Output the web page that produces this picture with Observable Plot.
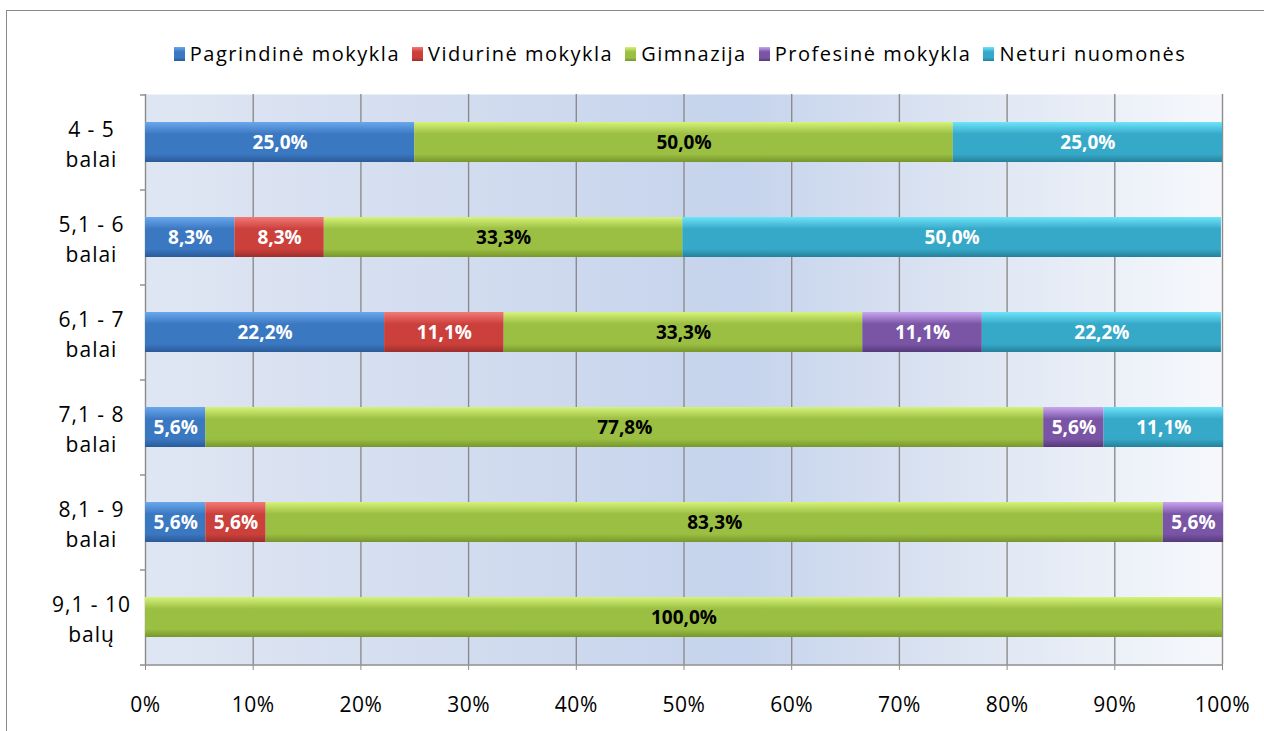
<!DOCTYPE html>
<html>
<head>
<meta charset="utf-8">
<script src="https://cdn.jsdelivr.net/npm/d3@7"></script>
<script src="https://cdn.jsdelivr.net/npm/@observablehq/plot@0.6"></script>
<style>
  body { margin: 0; background: #fff; font-family: "Open Sans", sans-serif; }
  #wrap { position: relative; width: 1264px; height: 731px; overflow: hidden; background: #fff; }
  #border { position: absolute; left: 6px; top: 10px; width: 1400px; height: 900px; border: 1.5px solid #8a8a8a; box-sizing: border-box; }
  #legend { position: absolute; top: 40px; left: 130px; width: 1100px; display: flex; justify-content: center; align-items: center; font-size: 20px; letter-spacing: 1.5px; color: #000; }
  .item { display: flex; align-items: center; margin: 0 6px; }
  .sw { width: 11px; height: 14px; margin-right: 5px; }
  #chart { position: absolute; left: 0; top: 80px; }
  #chart svg g[aria-label="x-axis tick label"] { font-size: 21px; letter-spacing: 0.5px; }
  #chart svg g[aria-label="y-axis tick label"] { font-size: 21px; letter-spacing: 1px; }
</style>
</head>
<body>
<div id="wrap">
  <div id="border"></div>
  <div id="legend"></div>
  <div id="chart"></div>
</div>
<script>
// ---- data ----
const categories = ["4 - 5\nbalai", "5,1 - 6\nbalai", "6,1 - 7\nbalai", "7,1 - 8\nbalai", "8,1 - 9\nbalai", "9,1 - 10\nbalų"];
const seriesNames = ["Pagrindinė mokykla", "Vidurinė mokykla", "Gimnazija", "Profesinė mokykla", "Neturi nuomonės"];
const pagrindine = [25.0, 8.3, 22.2, 5.6, 5.6, 0];
const vidurine   = [0, 8.3, 11.1, 0, 5.6, 0];
const gimnazija  = [50.0, 33.3, 33.3, 77.8, 83.3, 100.0];
const profesine  = [0, 0, 11.1, 5.6, 5.6, 0];
const neturi     = [25.0, 50.0, 22.2, 11.1, 0, 0];
const xTicks = [0, 10, 20, 30, 40, 50, 60, 70, 80, 90, 100];

// ---- styles (colours) ----
const seriesValues = [pagrindine, vidurine, gimnazija, profesine, neturi];
const grads = [
  {id: "gP", top: "#6aa8ec", main: "#3b78c2", bot: "#2a5a98"},
  {id: "gV", top: "#f27a76", main: "#cc403c", bot: "#9c2e2b"},
  {id: "gG", top: "#d6f27a", main: "#9bbf42", bot: "#77962c"},
  {id: "gR", top: "#c9a6f0", main: "#7a55a6", bot: "#56397a"},
  {id: "gN", top: "#6ee4fa", main: "#36a9c8", bot: "#25809a"}
];

const rows = [];
seriesNames.forEach((s, si) => {
  categories.forEach((c, ci) => {
    const v = seriesValues[si][ci];
    if (v > 0) rows.push({cat: c, series: s, value: v});
  });
});
const fmt = v => v.toFixed(1).replace(".", ",") + "%";

// ---- legend ----
const legend = document.getElementById("legend");
seriesNames.forEach((s, i) => {
  const g = grads[i];
  const it = document.createElement("div");
  it.className = "item";
  const sw = document.createElement("div");
  sw.className = "sw";
  sw.style.background = `linear-gradient(to bottom, ${g.top} 0%, ${g.main} 35%, ${g.main} 75%, ${g.bot} 100%)`;
  const tx = document.createElement("span");
  tx.textContent = s;
  it.appendChild(sw); it.appendChild(tx);
  legend.appendChild(it);
});

// ---- chart ----
const W = 1264, H = 651, mt = 14, mb = 67, ml = 145, mr = 42;
const step = (H - mt - mb) / categories.length;
const pxPerUnit = (W - ml - mr) / 100;
const tickUnits = 5 / pxPerUnit;

const plot = Plot.plot({
  width: W, height: H,
  marginTop: mt, marginBottom: mb, marginLeft: ml, marginRight: mr,
  style: {fontFamily: "'Open Sans', sans-serif", fontSize: "20px", color: "#000", background: "transparent"},
  x: {domain: [0, 100], axis: null},
  y: {domain: categories, paddingInner: 0.58, paddingOuter: 0.29, axis: null},
  color: {domain: seriesNames, range: grads.map(g => `url(#${g.id})`), type: "ordinal"},
  marks: [
    Plot.frame({fill: "url(#bgGrad)"}),
    Plot.ruleX(xTicks, {stroke: "#8c8c8c", strokeWidth: 1.4}),
    // horizontal ticks at band boundaries on the y axis
    Plot.ruleY(categories, {y: d => d, x1: -tickUnits, x2: 0, dy: -step / 2, stroke: "#8c8c8c", strokeWidth: 1.4}),
    Plot.ruleY([categories[categories.length - 1]], {y: d => d, x1: -tickUnits, x2: 100, dy: step / 2, stroke: "#8c8c8c", strokeWidth: 1.4}),
    Plot.axisX({ticks: xTicks, tickFormat: d => d + "%", tickSize: 6, tickPadding: 27, stroke: "#8c8c8c", label: null}),
    Plot.axisY({tickSize: 0, tickPadding: 54, textAnchor: "middle", lineHeight: 1.45, label: null}),
    Plot.barX(rows, Plot.stackX({x: "value", y: "cat", fill: "series", inset: 0})),
    Plot.text(rows, Plot.stackX({x: "value", y: "cat", text: d => d.series === "Gimnazija" ? null : fmt(d.value), fill: "white", fontWeight: "bold", fontSize: 19})),
    Plot.text(rows, Plot.stackX({x: "value", y: "cat", text: d => d.series === "Gimnazija" ? fmt(d.value) : null, fill: "black", fontWeight: "bold", fontSize: 19}))
  ]
});

const svg = d3.select(plot);
const defs = svg.insert("defs", ":first-child");
const bg = defs.append("linearGradient").attr("id", "bgGrad").attr("x1", "0").attr("x2", "1").attr("y1", "0").attr("y2", "0");
[[0, "#dfe6f3"], [0.3, "#d2dcef"], [0.55, "#c5d3ec"], [0.75, "#dce4f2"], [1, "#f6f8fc"]].forEach(([o, c]) =>
  bg.append("stop").attr("offset", o).attr("stop-color", c));
grads.forEach(g => {
  const lg = defs.append("linearGradient").attr("id", g.id).attr("x1", "0").attr("x2", "0").attr("y1", "0").attr("y2", "1");
  [[0, g.top], [0.3, g.main], [0.8, g.main], [1, g.bot]].forEach(([o, c]) =>
    lg.append("stop").attr("offset", o).attr("stop-color", c));
});

document.getElementById("chart").appendChild(plot);
</script>
</body>
</html>
